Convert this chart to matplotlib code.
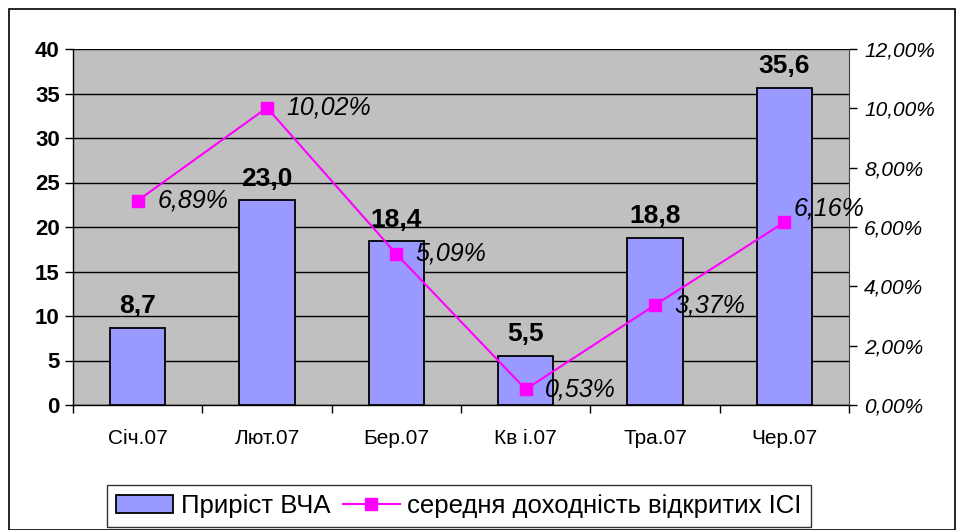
import numpy as np
import matplotlib
matplotlib.use("Agg")
import matplotlib.pyplot as plt
from matplotlib.patches import Rectangle
from matplotlib.ticker import FuncFormatter, MultipleLocator

plt.rcParams['font.family'] = ['Liberation Sans', 'DejaVu Sans']

months = ['Січ.07', 'Лют.07', 'Бер.07', 'Кв і.07', 'Тра.07', 'Чер.07']
vca_growth = [8.7, 23.0, 18.4, 5.5, 18.8, 35.6]
avg_yield = [6.89, 10.02, 5.09, 0.53, 3.37, 6.16]

bar_label = 'Приріст ВЧА'
line_label = 'середня доходність відкритих ІСІ'

fig = plt.figure(figsize=(9.59, 5.30), dpi=100)
fig.patches.append(Rectangle((9 / 959, 0), 946 / 959, 521 / 530, transform=fig.transFigure,
                             fill=False, edgecolor='black', linewidth=1.2))

ax = fig.add_axes([73 / 959, 1 - 405 / 530, 776 / 959, 356 / 530])
ax.set_facecolor('#C0C0C0')
x = np.arange(len(months))

bars = ax.bar(x, vca_growth, width=0.43, color='#9999FF', edgecolor='black', linewidth=1.3,
              zorder=3, label=bar_label)
for xi, v in zip(x, vca_growth):
    ax.annotate(f'{v:.1f}'.replace('.', ','), (xi, v), xytext=(0, 7), textcoords='offset points',
                ha='center', va='bottom', fontsize=19, fontweight='bold', zorder=6)

ax.set_xlim(-0.5, len(months) - 0.5)
ax.set_ylim(0, 40)
ax.yaxis.set_major_locator(MultipleLocator(5))
ax.grid(axis='y', color='black', linewidth=1.0, zorder=1)
ax.set_axisbelow(True)
ax.set_xticks(x)
ax.set_xticklabels(months, fontsize=15)
ax.set_xticks(np.arange(-0.5, len(months)), minor=True)
ax.tick_params(axis='x', which='major', length=0, pad=17)
ax.tick_params(axis='x', which='minor', length=6, width=1)
ax.tick_params(axis='y', length=6, width=1, labelsize=16)
for t in ax.get_yticklabels():
    t.set_fontweight('bold')
for s in ['top', 'right']:
    ax.spines[s].set_visible(False)
ax.spines['left'].set_linewidth(1.0)
ax.spines['bottom'].set_linewidth(1.0)

ax2 = ax.twinx()
line, = ax2.plot(x, avg_yield, color='#FF00FF', linewidth=1.5, marker='s', markersize=9,
                 zorder=5, label=line_label)
ax2.set_ylim(0, 12)
ax2.yaxis.set_major_locator(MultipleLocator(2))
ax2.yaxis.set_major_formatter(FuncFormatter(lambda v, p: f'{v:.2f}%'.replace('.', ',')))
ax2.tick_params(axis='y', length=6, width=1, labelsize=15, pad=5)
for t in ax2.get_yticklabels():
    t.set_fontstyle('italic')
for s in ['top', 'left', 'bottom']:
    ax2.spines[s].set_visible(False)
ax2.spines['right'].set_color('#404040')

label_offsets = [(14, 0), (14, 0), (14, 0), (14, 0), (14, 0), (7, 10)]
for xi, v, off in zip(x, avg_yield, label_offsets):
    ax2.annotate(f'{v:.2f}%'.replace('.', ','), (xi, v), xytext=off, textcoords='offset points',
                 ha='left', va='center', fontsize=18, fontstyle='italic', zorder=6,
                 annotation_clip=False)

leg = fig.legend([bars, line], [bar_label, line_label], loc='lower center',
                 bbox_to_anchor=(459 / 959, 3 / 530), ncol=2, fontsize=18.5, frameon=True,
                 fancybox=False, edgecolor='black', handlelength=2.2, columnspacing=0.5,
                 handletextpad=0.3, borderpad=0.35, borderaxespad=0)
leg.get_frame().set_linewidth(1.0)

fig.savefig('out.png', dpi=100)
